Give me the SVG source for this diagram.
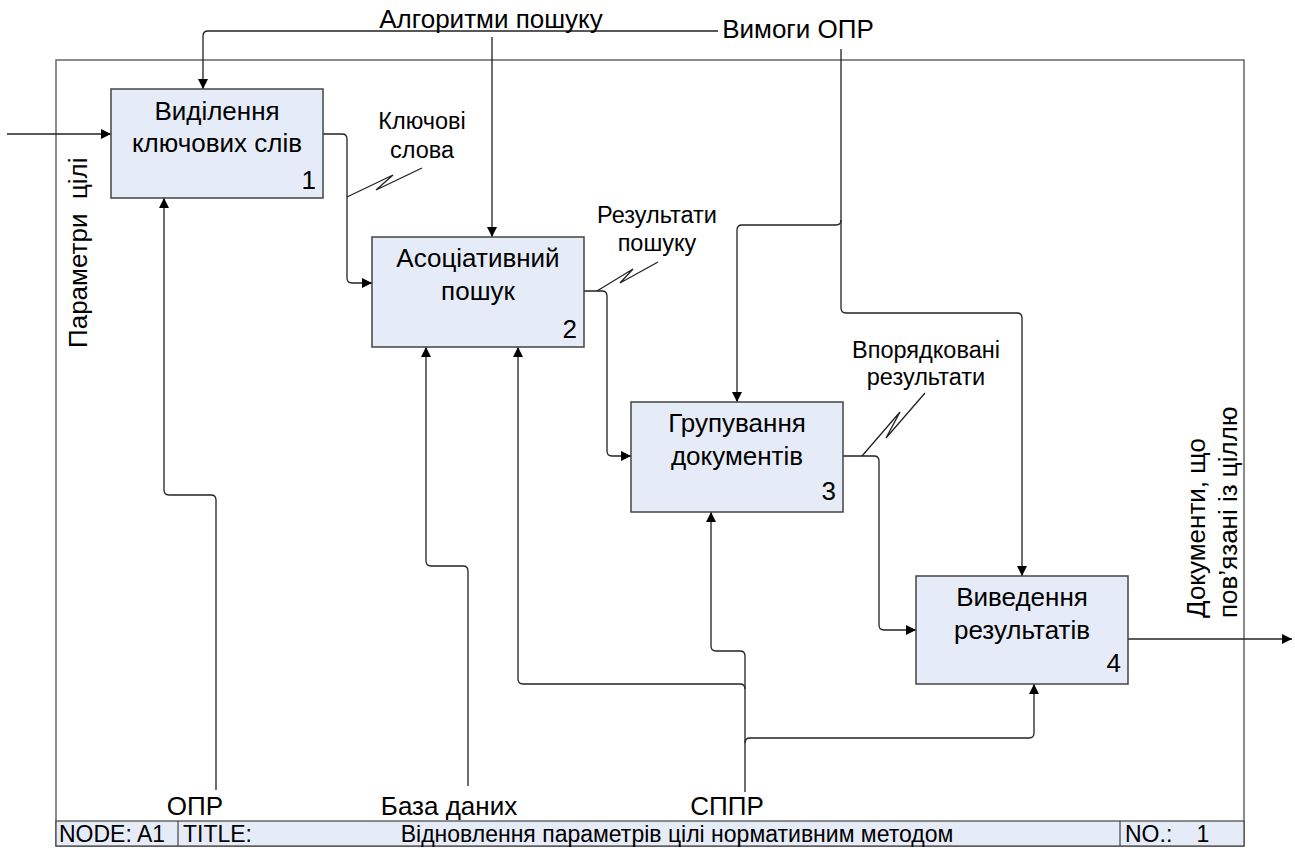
<svg xmlns="http://www.w3.org/2000/svg" width="1295" height="850" viewBox="0 0 1295 850">
<defs>
<marker id="arr" markerUnits="userSpaceOnUse" markerWidth="10" markerHeight="10" refX="10" refY="5" orient="auto">
<path d="M0,0 L10,5 L0,10 z" fill="#000"/>
</marker>
<style>
.box{fill:#e6ecf7;stroke:#444;stroke-width:1.5}
.frame{fill:none;stroke:#666;stroke-width:1.5}
.bar{fill:#e6ecf7;stroke:#444;stroke-width:1.2}
.c{fill:none;stroke:#222;stroke-width:1.3}
.a{marker-end:url(#arr)}
.t{font-family:"Liberation Sans",Arial,sans-serif;font-size:26px;fill:#000}
.m{text-anchor:middle}
.s{font-family:"Liberation Sans",Arial,sans-serif;font-size:23.5px;fill:#000;text-anchor:middle}
.n{font-family:"Liberation Sans",Arial,sans-serif;font-size:26px;fill:#000;text-anchor:end}
.b{font-family:"Liberation Sans",Arial,sans-serif;font-size:23px;fill:#000}
</style>
</defs>
<rect width="1295" height="850" fill="#fff"/>
<g id="frame">
<rect class="frame" x="56" y="60" width="1188" height="786"/>
<rect class="bar" x="56" y="821" width="1188" height="25"/>
<line x1="178" y1="821" x2="178" y2="846" stroke="#444" stroke-width="1.2"/>
<line x1="1120" y1="821" x2="1120" y2="846" stroke="#444" stroke-width="1.2"/>
<text class="b" x="59" y="842">NODE: A1</text>
<text class="b" x="183" y="842">TITLE:</text>
<text class="b" x="677" y="842" text-anchor="middle">Відновлення параметрів цілі нормативним методом</text>
<text class="b" x="1125" y="842">NO.:</text>
<text class="b" x="1203" y="842" text-anchor="middle">1</text>
</g>
<g id="connectors">
<path class="c a" d="M7,134 H111"/>
<path class="c a" d="M718,31 H208 Q203,31 203,36 V89"/>
<path class="c a" d="M492,37 V237"/>
<path class="c a" d="M841,49 V308 Q841,313 846,313 H1017 Q1022,313 1022,318 V576"/>
<path class="c a" d="M841,220 Q841,225 836,225 H742 Q737,225 737,230 V402"/>
<path class="c a" d="M323,134 H342 Q347,134 347,139 V278 Q347,283 352,283 H372"/>
<path class="c a" d="M584,291 H602 Q607,291 607,296 V451 Q607,456 612,456 H631"/>
<path class="c a" d="M843,456 H874 Q879,456 879,461 V625 Q879,630 884,630 H916"/>
<path class="c a" d="M1128,639 H1292"/>
<path class="c a" d="M216,790 V500 Q216,495 211,495 H169 Q164,495 164,490 V198"/>
<path class="c a" d="M468,786 V571 Q468,566 463,566 H431 Q426,566 426,561 V347"/>
<path class="c a" d="M745,792 V656 Q745,651 740,651 H716 Q711,651 711,646 V512"/>
<path class="c a" d="M745,689 Q745,684 740,684 H523 Q518,684 518,679 V347"/>
<path class="c a" d="M745,743 Q745,738 750,738 H1029 Q1034,738 1034,733 V684"/>
<path class="c" d="M347,197 L393,175 L376,190 L422,168"/>
<path class="c" d="M597,291 L633,269 L620,283 L658,262"/>
<path class="c" d="M862,456 L900,412 L886,438 L925,393"/>
</g>
<g id="labels">
<text class="t m" x="491" y="28">Алгоритми пошуку</text>
<text class="t m" x="798" y="38">Вимоги ОПР</text>
<text class="t" transform="translate(87,348) rotate(-90)" xml:space="preserve">Параметри  цілі</text>
<text class="t" transform="translate(1205,618) rotate(-90)">Документи, що</text>
<text class="t" transform="translate(1237,618) rotate(-90)">пов’язані із ціллю</text>
<text class="t m" x="195" y="815">ОПР</text>
<text class="t m" x="449" y="815">База даних</text>
<text class="t m" x="727" y="815">СППР</text>
<text class="s" x="422" y="129">Ключові</text>
<text class="s" x="422" y="158">слова</text>
<text class="s" x="657" y="223">Результати</text>
<text class="s" x="657" y="251">пошуку</text>
<text class="s" x="926" y="358">Впорядковані</text>
<text class="s" x="926" y="385">результати</text>
</g>
<g id="node1">
<rect class="box" x="111" y="89" width="212" height="109"/>
<text class="t m" x="217" y="120">Виділення</text>
<text class="t m" x="217" y="152">ключових слів</text>
<text class="n" x="316" y="189">1</text>
</g>
<g id="node2">
<rect class="box" x="372" y="237" width="212" height="110"/>
<text class="t m" x="478" y="267">Асоціативний</text>
<text class="t m" x="478" y="300">пошук</text>
<text class="n" x="577" y="338">2</text>
</g>
<g id="node3">
<rect class="box" x="631" y="402" width="212" height="110"/>
<text class="t m" x="737" y="432">Групування</text>
<text class="t m" x="737" y="465">документів</text>
<text class="n" x="836" y="500">3</text>
</g>
<g id="node4">
<rect class="box" x="916" y="576" width="212" height="108"/>
<text class="t m" x="1022" y="606">Виведення</text>
<text class="t m" x="1022" y="639">результатів</text>
<text class="n" x="1121" y="672">4</text>
</g>
</svg>
